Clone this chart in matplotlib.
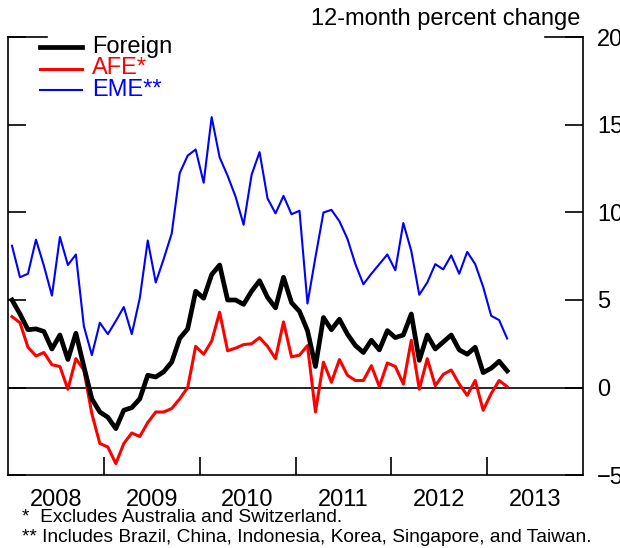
import matplotlib
matplotlib.use("Agg")
import matplotlib.pyplot as plt
import pandas as pd

plt.rcParams['font.family'] = ['Liberation Sans', 'DejaVu Sans']

# Monthly 12-month percent change, Jan 2008 - Mar 2013
months = pd.period_range('2008-01', '2013-03', freq='M')

foreign = [5.0, 4.2, 3.3, 3.35, 3.2, 2.2, 3.0, 1.6, 3.1, 1.2,
           -0.65, -1.4, -1.7, -2.35, -1.3, -1.15, -0.65, 0.7, 0.6, 0.9,
           1.45, 2.8, 3.35, 5.5, 5.1, 6.45, 7.0, 5.0, 5.0, 4.75,
           5.5, 6.1, 5.15, 4.55, 6.3, 4.85, 4.35, 3.25, 1.2, 4.0,
           3.3, 3.9, 3.05, 2.4, 2.0, 2.7, 2.15, 3.25, 2.85, 3.0,
           4.2, 1.55, 3.0, 2.2, 2.6, 3.0, 2.15, 1.9, 2.3, 0.85,
           1.1, 1.5, 0.95]

afe = [4.05, 3.7, 2.3, 1.8, 2.0, 1.3, 1.2, -0.1, 1.65, 1.0,
       -1.5, -3.2, -3.4, -4.35, -3.2, -2.6, -2.8, -2.0, -1.4, -1.4,
       -1.2, -0.65, 0.0, 2.35, 1.9, 2.65, 4.3, 2.1, 2.25, 2.45,
       2.5, 2.85, 2.35, 1.65, 3.75, 1.75, 1.85, 2.4, -1.4, 1.45,
       0.3, 1.6, 0.7, 0.4, 0.4, 1.25, 0.05, 1.4, 1.2, 0.2,
       2.7, -0.1, 1.65, 0.1, 0.75, 1.0, 0.2, -0.45, 0.4, -1.3,
       -0.35, 0.4, 0.05]

eme = [8.1, 6.3, 6.5, 8.45, 6.95, 5.25, 8.6, 7.0, 7.6, 3.5,
       1.85, 3.7, 3.05, 3.8, 4.6, 3.05, 5.1, 8.4, 6.0, 7.35,
       8.8, 12.25, 13.25, 13.6, 11.7, 15.45, 13.15, 12.1, 10.9, 9.3,
       12.15, 13.45, 10.8, 9.95, 10.95, 9.9, 10.1, 4.8, 7.45, 10.0,
       10.15, 9.5, 8.5, 7.05, 5.9, 6.5, 7.05, 7.6, 6.7, 9.4,
       7.8, 5.3, 6.0, 7.05, 6.75, 7.55, 6.5, 7.75, 7.05, 5.75,
       4.1, 3.85, 2.8]

years = [2008, 2009, 2010, 2011, 2012, 2013]
y_ticks = [-5, 0, 5, 10, 15, 20]

x = [m.year + (m.month - 0.5) / 12 for m in months]

fig = plt.figure(figsize=(6.2, 5.48), dpi=100)
ax = fig.add_axes([8 / 620, 73 / 548, 575 / 620, 437.5 / 548])

ax.plot(x, eme, color='#0000ff', lw=1.5, label='EME**', zorder=3)
ax.plot(x, afe, color='#ff0000', lw=2.2, label='AFE*', zorder=4)
ax.plot(x, foreign, color='black', lw=3.4, label='Foreign', zorder=5)
ax.axhline(0, color='black', lw=1.2, zorder=2)

ax.set_xlim(2008, 2014)
ax.set_ylim(-5, 20)

# frame: open top, short corner pieces only
ax.spines['top'].set_visible(False)
for s in ['left', 'right', 'bottom']:
    ax.spines[s].set_linewidth(1.2)
ax.plot([2008, 2008.41], [20, 20], color='black', lw=1.2, clip_on=False)
ax.plot([2013.6, 2014], [20, 20], color='black', lw=1.2, clip_on=False)

ax.set_yticks(y_ticks)
ax.yaxis.set_ticks_position('both')
ax.tick_params(axis='y', direction='in', length=13, width=1.2,
               labelleft=False, labelright=True, labelsize=17, pad=10)

ax.set_xticks(years[1:])
ax.set_xticks([y + 0.5 for y in years], minor=True)
ax.set_xticklabels([str(y) for y in years], minor=True)
ax.tick_params(axis='x', which='major', direction='in', length=13, width=1.2,
               labelbottom=False)
ax.tick_params(axis='x', which='minor', length=0, labelsize=17, pad=10)

fig.text(580 / 620, 1 - 19 / 548, '12-month percent change', ha='right',
         va='center', fontsize=17)

# legend, hand-placed so the text takes the line colours
leg = [('Foreign', 'black', 3.4), ('AFE*', '#ff0000', 2.2), ('EME**', '#0000ff', 1.5)]
for k, (name, col, lw) in enumerate(leg):
    yy = 1 - (47 + 21.5 * k) / 548
    fig.lines.append(plt.Line2D([40 / 620, 82 / 620], [yy, yy], color=col, lw=lw,
                                transform=fig.transFigure))
    fig.text(92 / 620, yy, name, color=col, fontsize=17, va='center')

fig.text(22 / 620, 1 - 518 / 548, '*  Excludes Australia and Switzerland.',
         fontsize=13.8, va='center')
fig.text(22 / 620, 1 - 537 / 548,
         '** Includes Brazil, China, Indonesia, Korea, Singapore, and Taiwan.',
         fontsize=13.8, va='center')

fig.savefig('out.png', dpi=100)
